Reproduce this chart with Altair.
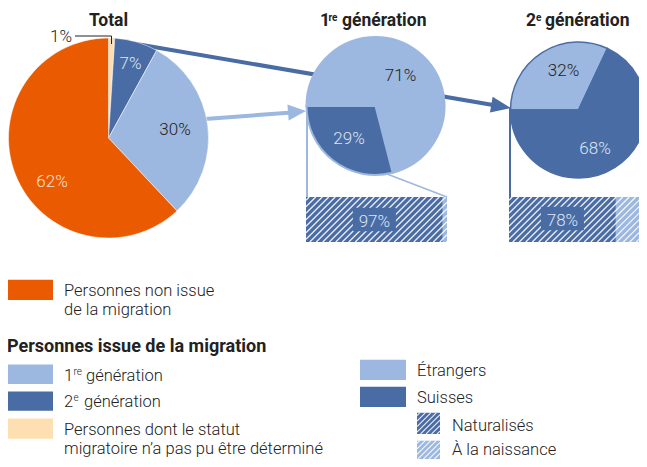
import math
import altair as alt
import pandas as pd

# ---------------- data ----------------
total_cats = ["Non déterminé", "2e génération", "1re génération", "Non issue de la migration"]
total_vals = [1, 7, 30, 62]
gen1_cats = ["Étrangers", "Suisses"]
gen1_vals = [71, 29]
gen2_cats = ["Étrangers", "Suisses"]
gen2_vals = [32, 68]
nat_cats = ["Naturalisés", "À la naissance"]
gen1_nat_vals = [97, 3]
gen2_nat_vals = [78, 22]

# ---------------- styles ----------------
ORANGE = "#EA5A00"
LIGHT = "#9CB8E0"
DARK = "#4A6CA5"
PEACH = "#FDDFB1"
TXT = "#222222"
LTXT = "#DDE6F4"
OTXT = "#FBE2D0"
FONT = "Roboto"

W, H = 631, 451


def X(v):
    return v - 8


def Y(v):
    # top part 1:1, legend part slightly compressed to fit the page
    if v <= 250:
        return v - 8
    return 242 + (v - 250) * (H - 242) / (467 - 250)


def pie(cats, vals, colors, cx, cy, r, start_deg, stroke="white", sw=0.5):
    df = pd.DataFrame({"cat": cats, "v": vals, "col": colors, "ord": list(range(len(cats)))})
    s = math.radians(start_deg)
    return alt.Chart(df).mark_arc(radius=r, stroke=stroke, strokeWidth=sw).encode(
        theta=alt.Theta("v:Q", stack=True,
                        scale=alt.Scale(domain=[0, 100], range=[s, s + 2 * math.pi])),
        order=alt.Order("ord:Q"),
        color=alt.Color("col:N", scale=None),
        x=alt.value(X(cx)), y=alt.value(Y(cy)),
    )


def hatch_rows(x0, y0, x1, y1, step=6.5):
    rows = []
    c = x0 + y0 + step / 2
    while c < x1 + y1:
        xa = max(x0, c - y1)
        xb = min(x1, c - y0)
        if xb > xa:
            rows.append({"x": xa, "y": c - xa, "x2": xb, "y2": c - xb})
        c += step
    return rows


def rules(rows, color, width, opacity=1.0):
    df = pd.DataFrame([{"x": X(a), "y": Y(b), "x2": X(c), "y2": Y(d)} for a, b, c, d in rows])
    return alt.Chart(df).mark_rule(color=color, strokeWidth=width, opacity=opacity).encode(
        x=alt.X("x:Q", scale=None, axis=None), y=alt.Y("y:Q", scale=None, axis=None),
        x2="x2:Q", y2="y2:Q")


def hatch_layer(rect, step=6.5, width=1.2):
    x0, y0, x1, y1 = rect
    df = pd.DataFrame(hatch_rows(X(x0), Y(y0), X(x1), Y(y1), step=step))
    return alt.Chart(df).mark_rule(color="white", strokeWidth=width, opacity=0.9).encode(
        x=alt.X("x:Q", scale=None, axis=None), y=alt.Y("y:Q", scale=None, axis=None),
        x2="x2:Q", y2="y2:Q")


def texts(rows, size, color, weight=300, align="left"):
    df = pd.DataFrame([{"x": X(a), "y": Y(b), "t": t} for a, b, t in rows])
    return alt.Chart(df).mark_text(font=FONT, fontSize=size, fontWeight=weight, color=color,
                                   align=align, baseline="alphabetic").encode(
        x=alt.X("x:Q", scale=None, axis=None), y=alt.Y("y:Q", scale=None, axis=None), text="t:N")


def rects(rows):
    df = pd.DataFrame([{"x": X(a), "y": Y(b), "x2": X(c), "y2": Y(d), "col": col}
                       for a, b, c, d, col in rows])
    return alt.Chart(df).mark_rect().encode(
        x=alt.X("x:Q", scale=None, axis=None), y=alt.Y("y:Q", scale=None, axis=None),
        x2="x2:Q", y2="y2:Q", color=alt.Color("col:N", scale=None))


def arrow_layer(tx, ty, dx, dy, length, half, color):
    n = math.hypot(dx, dy)
    ux, uy = dx / n, dy / n
    cx, cy = tx - ux * length / 2, ty - uy * length / 2
    ang = math.degrees(math.atan2(uy, ux)) % 360
    k = half / (length / 2)
    shape = f"M-1,{-k:.3f}L1,0L-1,{k:.3f}Z"
    df = pd.DataFrame([{"x": X(cx), "y": Y(cy)}])
    return alt.Chart(df).mark_point(shape=shape, size=length * length, angle=ang, filled=True,
                                    color=color, opacity=1, strokeWidth=0).encode(
        x=alt.X("x:Q", scale=None, axis=None), y=alt.Y("y:Q", scale=None, axis=None))


BOX = "M-1,-0.55L1,-0.55L1,0.55L-1,0.55Z"


def bar(vals, colors, x0, x1, y0, y1, label_y):
    cum = [0]
    for v in vals:
        cum.append(cum[-1] + v)
    df = pd.DataFrame({"cat": nat_cats, "start": cum[:-1], "end": cum[1:], "col": colors,
                       "mid": [(a + b) / 2 for a, b in zip(cum[:-1], cum[1:])],
                       "lab": [f"{v}%" for v in vals]})
    xs = alt.Scale(domain=[0, 100], range=[X(x0), X(x1)])
    base = alt.Chart(df)
    r = base.mark_rect().encode(
        x=alt.X("start:Q", scale=xs, axis=None), x2="end:Q",
        y=alt.value(Y(y0)), y2=alt.value(Y(y1)), color=alt.Color("col:N", scale=None))
    first = base.transform_filter(alt.datum.cat == nat_cats[0])
    box = first.mark_point(shape=BOX, size=43 * 43, filled=True, color=colors[0], opacity=1,
                           strokeWidth=0).encode(
        x=alt.X("mid:Q", scale=xs, axis=None), y=alt.value(Y(label_y - 7.5)))
    lab = first.mark_text(font=FONT, fontSize=17, fontWeight=300, color=LTXT,
                          baseline="alphabetic").encode(
        x=alt.X("mid:Q", scale=xs, axis=None), y=alt.value(Y(label_y)), text="lab:N")
    return r, box, lab


# ---------------- layout ----------------
T_C, T_R = (108.5, 138), 100
G1_C, G1_R = (375.5, 106), 69
G2_C, G2_R = (578.5, 110), 68
BAR_Y0, BAR_Y1 = 197, 242
B1 = (306, 447)
B2 = (509, 646)

layers = []

# connecting arrows / lines (behind pies)
layers.append(rules([(113, 40, 496, 105.5)], DARK, 4))
layers.append(arrow_layer(511, 108, 397, 68, 20, 8, DARK))
layers.append(rules([(205, 119, 292, 112.5)], LIGHT, 4))
layers.append(arrow_layer(306, 111, 101, -8, 18, 8, LIGHT))
layers.append(rules([(307, 106, 307, 197)], LIGHT, 2))
layers.append(rules([(387, 174, 447, 197)], LIGHT, 1.5))
layers.append(rules([(510, 108, 510, 197)], DARK, 2))

# pies
layers.append(pie(total_cats, total_vals, [PEACH, DARK, LIGHT, ORANGE], *T_C, T_R, 0))
layers.append(pie(gen1_cats, gen1_vals, [LIGHT, DARK], *G1_C, G1_R, 270, stroke=LIGHT, sw=2))
layers.append(pie(gen2_cats, gen2_vals, [LIGHT, DARK], *G2_C, G2_R, 270, stroke=DARK, sw=1.5))

# bars with hatch
r1, box1, lab1 = bar(gen1_nat_vals, [DARK, LIGHT], B1[0], B1[1], BAR_Y0, BAR_Y1, 227)
r2, box2, lab2 = bar(gen2_nat_vals, [DARK, LIGHT], B2[0], B2[1], BAR_Y0, BAR_Y1, 226)
layers.append(r1)
layers.append(r2)
layers.append(hatch_layer((B1[0], BAR_Y0, B1[1], BAR_Y1)))
layers.append(hatch_layer((B2[0], BAR_Y0, B2[1], BAR_Y1)))
layers.append(alt.layer(box1, lab1))
layers.append(alt.layer(box2, lab2))

# pie labels
p = lambda v: f"{v}%"
layers.append(texts([(61, 42, p(total_vals[0])), (175, 135, p(total_vals[2])),
                     (400.5, 81, p(gen1_vals[0])), (563.5, 76, p(gen2_vals[0]))],
                    17, TXT, align="center"))
layers.append(texts([(130.5, 68.5, p(total_vals[1])), (349, 144, p(gen1_vals[1])),
                     (595, 154, p(gen2_vals[1]))], 17, LTXT, align="center"))
layers.append(texts([(52, 187, p(total_vals[3]))], 17, OTXT, align="center"))
layers.append(rules([(75, 36, 111.5, 36), (111.5, 36, 111.5, 44)], TXT, 1))

# titles
layers.append(texts([(108.5, 26, "Total")], 17.5, TXT, weight="bold", align="center"))
layers.append(texts([(320, 26, "1"), (342, 26, "génération"),
                     (526, 26, "2"), (545, 26, "génération")], 17.5, TXT, weight="bold"))
layers.append(texts([(328.5, 20.5, "re"), (536, 20.5, "e")], 10, TXT, weight="bold"))

# legend
layers.append(rects([(7, 281, 53, 302, ORANGE), (7, 369, 53, 389, LIGHT),
                     (7, 397, 53, 417, DARK), (7, 425, 53, 446, PEACH),
                     (360, 364, 406, 385, LIGHT), (360, 392, 406, 413, DARK),
                     (417, 419, 440, 441, DARK), (417, 448, 440, 467, LIGHT)]))
layers.append(hatch_layer((417, 419, 440, 441), step=5.5, width=1.1))
layers.append(hatch_layer((417, 448, 440, 467), step=5.5, width=1.1))
layers.append(texts([(64, 298, "Personnes non issue"), (64, 318, "de la migration"),
                     (64, 386, "1"), (86, 386, "génération"),
                     (64, 413, "2"), (84, 413, "génération"),
                     (64, 442, "Personnes dont le statut"),
                     (64, 462, "migratoire n’a pas pu être déterminé"),
                     (417, 381, "Étrangers"), (417, 409, "Suisses"),
                     (452, 438, "Naturalisés"), (452, 463, "À la naissance")], 16.5, TXT))
layers.append(texts([(73.5, 380, "re"), (73.5, 407, "e")], 10, TXT))
layers.append(texts([(7, 356, "Personnes issue de la migration")], 18, TXT, weight="bold"))

chart = alt.layer(*layers).resolve_scale(theta="independent", x="independent").properties(
    width=W, height=H, padding=0,
    autosize=alt.AutoSizeParams(type="none"),
).configure_view(stroke=None)

chart.save("out.html", embed_options={"renderer": "svg", "actions": False})
